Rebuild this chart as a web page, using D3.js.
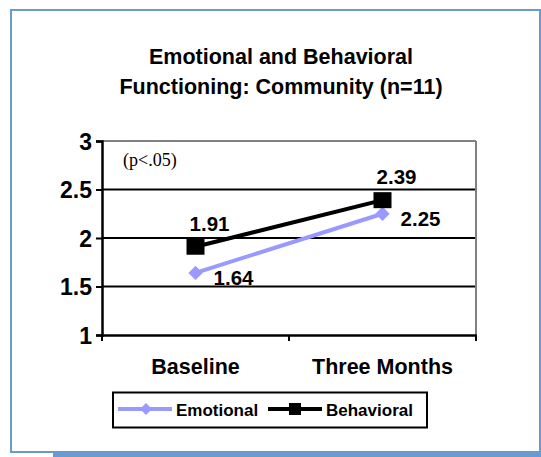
<!DOCTYPE html>
<html><head><meta charset="utf-8">
<script src="https://cdn.jsdelivr.net/npm/d3@7"></script>
<style>body{margin:0;background:#fff}svg{display:block}</style>
</head><body>
<script>
const categories = ["Baseline", "Three Months"];
const emotional = [1.64, 2.25];
const behavioral = [1.91, 2.39];
const yTicks = [1, 1.5, 2, 2.5, 3];
const titleLines = ["Emotional and Behavioral", "Functioning: Community (n=11)"];
const seriesNames = ["Emotional", "Behavioral"];

(function () {
const W = 541, H = 457;
const svg = d3.select("body").append("svg").attr("width", W).attr("height", H);
const font = "Arial, 'Liberation Sans', Helvetica, sans-serif";
const frameColor = "#6a9bd0";

// frame
svg.append("rect").attr("x", 11).attr("y", 10).attr("width", 529).attr("height", 442)
  .attr("fill", "none").attr("stroke", frameColor).attr("stroke-width", 2);
svg.append("rect").attr("x", 53).attr("y", 451).attr("width", 488).attr("height", 6).attr("fill", frameColor);

// title
svg.append("g").selectAll("text").data(titleLines).join("text")
  .attr("x", 281).attr("y", (d, i) => 64 + i * 30)
  .attr("text-anchor", "middle").attr("font-family", font).attr("font-weight", "bold")
  .attr("font-size", 21.5).attr("fill", "#000").text(d => d);

const pL = 102, pR = 476, pT = 141, pB = 335;
const x = d3.scaleBand().domain(categories).range([pL, pR]);
const y = d3.scaleLinear().domain([1, 3]).range([pB, pT]);

// gridlines
svg.append("g").selectAll("line").data(yTicks.filter(t => t > 1)).join("line")
  .attr("x1", pL).attr("x2", pR).attr("y1", d => y(d)).attr("y2", d => y(d))
  .attr("stroke", d => d === 3 ? "#808080" : "#000").attr("stroke-width", 2);
// right border
svg.append("line").attr("x1", pR).attr("x2", pR).attr("y1", pT).attr("y2", pB)
  .attr("stroke", "#808080").attr("stroke-width", 2);

// y axis
const yAxis = svg.append("g").attr("transform", `translate(${pL},0)`)
  .call(d3.axisLeft(y).tickValues(yTicks).tickSize(6).tickPadding(4).tickFormat(d3.format("")));
yAxis.select(".domain").attr("stroke", "#000").attr("stroke-width", 2.5);
yAxis.selectAll(".tick line").attr("stroke", "#000").attr("stroke-width", 2);
yAxis.selectAll("text").attr("font-family", font).attr("font-weight", "bold")
  .attr("font-size", 23).attr("fill", "#000").attr("dy", "0.36em");

// x axis
const xAxis = svg.append("g").attr("transform", `translate(0,${pB})`)
  .call(d3.axisBottom(x).tickSize(0).tickPadding(24));
xAxis.select(".domain").attr("stroke", "#000").attr("stroke-width", 2.5);
xAxis.selectAll("text").attr("font-family", font).attr("font-weight", "bold")
  .attr("font-size", 21.5).attr("fill", "#000");
// x tick marks at band boundaries
svg.append("g").selectAll("line").data([pL, x(categories[1]), pR]).join("line")
  .attr("x1", d => d).attr("x2", d => d).attr("y1", pB).attr("y2", pB + 6)
  .attr("stroke", "#000").attr("stroke-width", 2);

const cx = c => x(c) + x.bandwidth() / 2;
const line = d3.line().x((d, i) => cx(categories[i])).y(d => y(d));

// emotional
svg.append("path").datum(emotional).attr("d", line).attr("fill", "none")
  .attr("stroke", "#9999ff").attr("stroke-width", 4);
svg.append("g").selectAll("path").data(emotional).join("path")
  .attr("d", d3.symbol(d3.symbolDiamond2, 130)())
  .attr("transform", (d, i) => `translate(${cx(categories[i])},${y(d)})`)
  .attr("fill", "#9999ff");
// behavioral
svg.append("path").datum(behavioral).attr("d", line).attr("fill", "none")
  .attr("stroke", "#000").attr("stroke-width", 4);
svg.append("g").selectAll("rect").data(behavioral).join("rect")
  .attr("x", (d, i) => cx(categories[i]) - 9).attr("y", d => y(d) - 8)
  .attr("width", 18).attr("height", 16).attr("fill", "#000");

// data labels
const labelStyle = s => s.attr("font-family", font).attr("font-weight", "bold")
  .attr("font-size", 20.5).attr("fill", "#000").attr("text-anchor", "middle");
svg.append("g").selectAll("text").data(behavioral).join("text")
  .attr("x", (d, i) => cx(categories[i]) + 14).attr("y", d => y(d) - 16)
  .text(d => d.toFixed(2)).call(labelStyle);
svg.append("g").selectAll("text").data(emotional).join("text")
  .attr("x", (d, i) => cx(categories[i]) + 38).attr("y", d => y(d) + 12)
  .text(d => d.toFixed(2)).call(labelStyle);

// annotation
svg.append("text").attr("x", 123).attr("y", 166).attr("font-family", "'Times New Roman', 'Liberation Serif', serif")
  .attr("font-size", 18).attr("fill", "#000").text("(p<.05)");

// legend
const lg = svg.append("g");
lg.append("rect").attr("x", 113).attr("y", 392.5).attr("width", 314).attr("height", 35)
  .attr("fill", "#fff").attr("stroke", "#000").attr("stroke-width", 2);
const legendItems = [
  {name: seriesNames[0], color: "#9999ff", x0: 118, sym: "diamond"},
  {name: seriesNames[1], color: "#000", x0: 268, sym: "square"}
];
legendItems.forEach(it => {
  lg.append("line").attr("x1", it.x0).attr("x2", it.x0 + 54).attr("y1", 409).attr("y2", 409)
    .attr("stroke", it.color).attr("stroke-width", 4);
  if (it.sym === "diamond") {
    lg.append("path").attr("d", d3.symbol(d3.symbolDiamond2, 90)())
      .attr("transform", `translate(${it.x0 + 28},409)`).attr("fill", it.color);
  } else {
    lg.append("rect").attr("x", it.x0 + 21).attr("y", 403).attr("width", 12).attr("height", 12).attr("fill", it.color);
  }
  lg.append("text").attr("x", it.x0 + 58).attr("y", 415.5).attr("font-family", font).attr("font-weight", "bold")
    .attr("font-size", 17).attr("fill", "#000").text(it.name);
});
})();
</script>
</body></html>
